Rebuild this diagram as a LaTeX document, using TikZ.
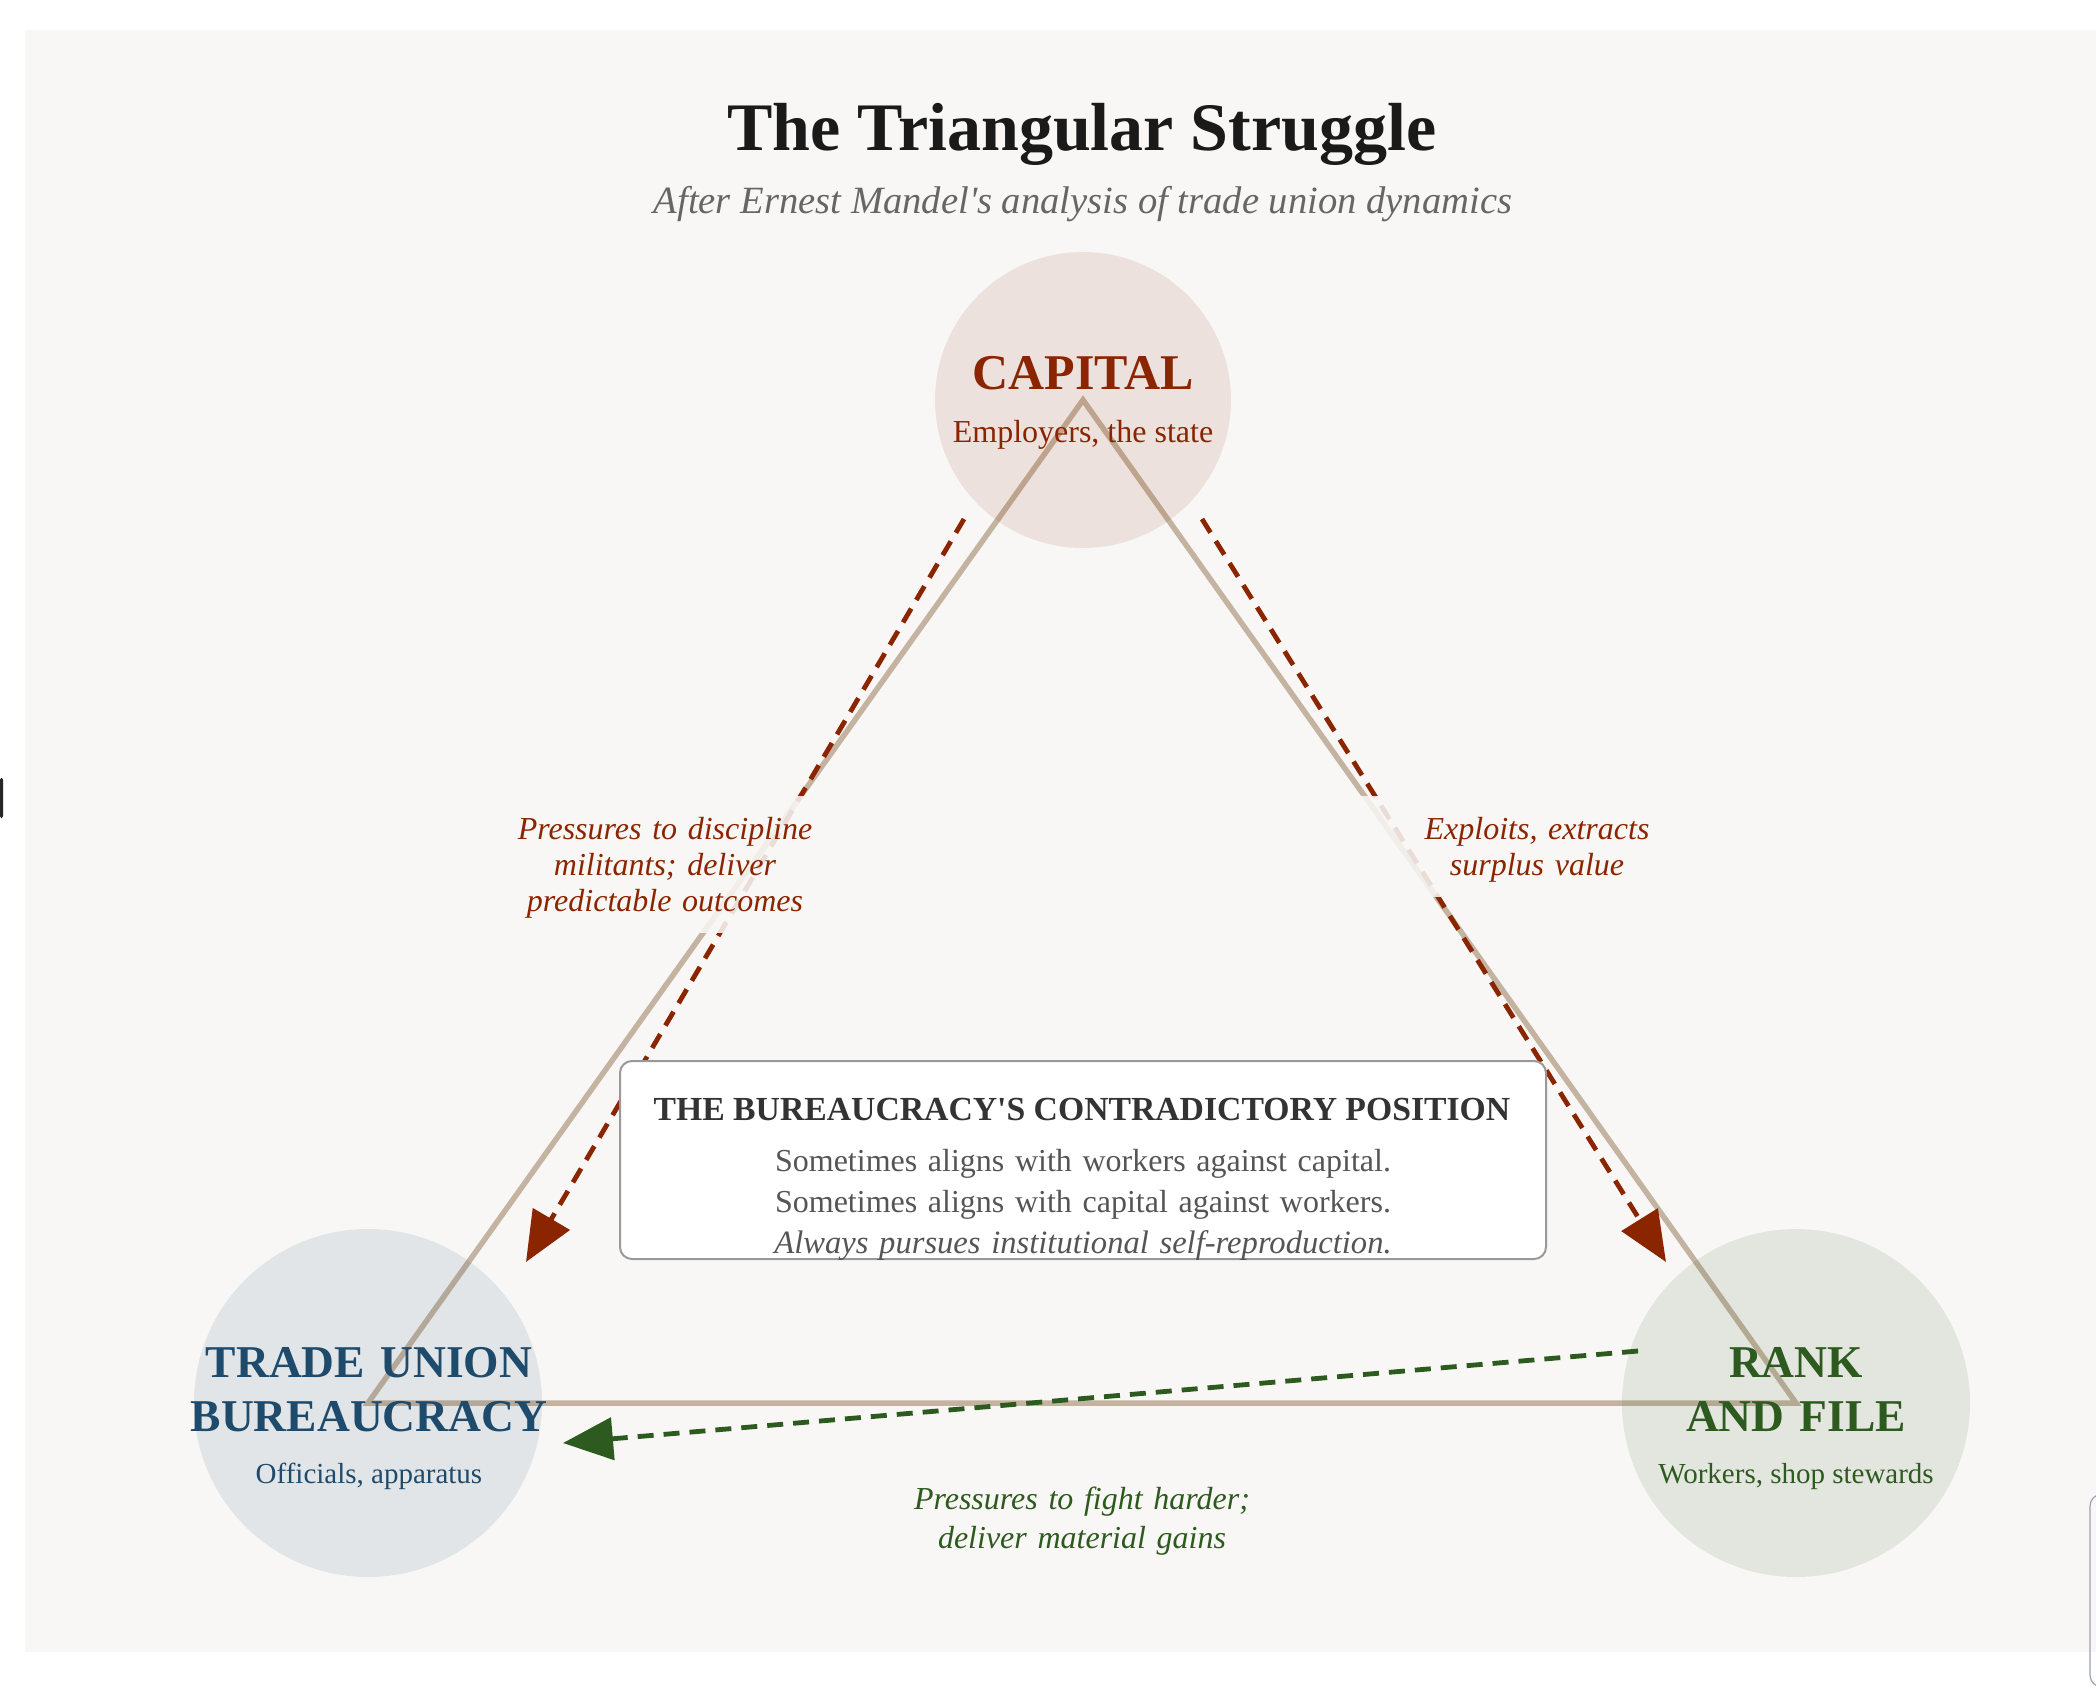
\documentclass[tikz,border=0pt]{standalone}
\usepackage{fontspec}
\setmainfont{Liberation Serif}[Ligatures=TeXOff]
\usetikzlibrary{arrows.meta}
\definecolor{panel}{HTML}{F8F7F5}
\definecolor{capred}{HTML}{8B2500}
\definecolor{burblue}{HTML}{1E4A6C}
\definecolor{rafgreen}{HTML}{2D5A1E}
\definecolor{tan}{HTML}{C4B3A0}
\definecolor{titlegray}{HTML}{1A1A1A}
\definecolor{subgray}{HTML}{666666}
\definecolor{headgray}{HTML}{333333}
\definecolor{bodygray}{HTML}{555555}
\definecolor{boxgray}{HTML}{999999}
\definecolor{edgeblue}{HTML}{9AA3B5}
\pgfdeclarelayer{bg}
\pgfdeclarelayer{lines}
\pgfsetlayers{bg,lines,main}
\tikzset{
  hub/.style={circle, inner sep=0pt, draw=none, fill opacity=0.1},
  tri/.style={draw=tan, line width=2.75pt, line join=miter},
  push/.style={line width=2.4pt, dash pattern=on 8pt off 5pt, -{Triangle[length=25pt,width=21pt]}},
  txt/.style={anchor=base, inner sep=0pt, align=center},
  hubname/.style={txt, text width=300pt, font=\bfseries\fontsize{22.75}{27}\selectfont},
  hubsub/.style={txt, font=\fontsize{14.5}{17}\selectfont},
  lbl/.style={txt, text width=200pt, font=\itshape\fontsize{16}{18}\selectfont},
  lblbg/.style={fill=panel, fill opacity=0.88}
}
\begin{document}
\begin{tikzpicture}[x=0.5pt,y=-0.5pt]
\useasboundingbox (0,0) rectangle (2096,1692);
\begin{pgfonlayer}{bg}
\fill[white] (0,0) rectangle (2096,1692);
\fill[panel] (25,30) rectangle (2096,1652);
\fill[black!85, rounded corners=1pt] (0,778) rectangle (3,818);
\draw[edgeblue, line width=0.6pt, rounded corners=6pt] (2130,1494) -- (2090,1494) -- (2090,1687) -- (2130,1687);
\end{pgfonlayer}

% title
\node[txt, font=\bfseries\fontsize{34}{40}\selectfont, text=titlegray] (title) at (1082,150) {The Triangular Struggle};
\node[txt, font=\itshape\fontsize{19.3}{22}\selectfont, text=subgray] (subtitle) at (1083,213) {After Ernest Mandel's analysis of trade union dynamics};

% hubs
\node[hub, fill=capred, minimum size=148pt] (cap) at (1083,400) {};
\node[hub, fill=burblue, minimum size=174pt] (bur) at (368,1403) {};
\node[hub, fill=rafgreen, minimum size=174pt] (raf) at (1796,1403) {};

\begin{pgfonlayer}{lines}
\draw[tri] (cap.center) -- (bur.center) -- (raf.center) -- cycle;
\end{pgfonlayer}

% arrows
\coordinate (a1s) at (964,519);
\coordinate (a1e) at (526,1262);
\coordinate (a2s) at (1202,519);
\coordinate (a2e) at (1666,1262);
\coordinate (a3s) at (1638,1351);
\coordinate (a3e) at (563,1443);
\draw[push, capred] (a1s) -- (a1e);
\draw[push, capred] (a2s) -- (a2e);
\draw[push, rafgreen] (a3s) -- (a3e);

% label backgrounds
\fill[lblbg] (485,796) rectangle (845,933);
\fill[lblbg] (1357,796) rectangle (1717,897);

% hub texts
\node[txt, font=\bfseries\fontsize{25}{28}\selectfont, text=capred] (capname) at (1083,389) {CAPITAL};
\node[txt, font=\fontsize{16}{18}\selectfont, text=capred] (capsub) at (1083,442) {Employers, the state};
\node[hubname, text=burblue] (burname) at (369,1377) {TRADE UNION\\BUREAUCRACY};
\node[hubsub, text=burblue] (bursub) at (369,1483) {Officials, apparatus};
\node[hubname, text=rafgreen] (rafname) at (1796,1377) {RANK\\AND FILE};
\node[hubsub, text=rafgreen] (rafsub) at (1796,1483) {Workers, shop stewards};

% edge labels
\node[lbl, text=capred] (l1) at (665,839) {Pressures to discipline\\militants; deliver\\predictable outcomes};
\node[lbl, text=capred] (l2) at (1537,839) {Exploits, extracts\\surplus value};
\node[lbl, text=rafgreen, font=\itshape\fontsize{16}{19.5}\selectfont] (l3) at (1082,1509) {Pressures to fight harder;\\deliver material gains};

% central box
\node[draw=boxgray, line width=1pt, fill=white, rounded corners=6pt, minimum width=463pt, minimum height=99pt, inner sep=0pt] (box) at (1083,1160) {};
\node[txt, font=\bfseries\fontsize{16.85}{20}\selectfont, text=headgray] (boxhead) at (1082,1120) {THE BUREAUCRACY'S CONTRADICTORY POSITION};
\node[txt, text width=400pt, font=\fontsize{16}{20.7}\selectfont, text=bodygray] (boxbody) at (1083,1171) {Sometimes aligns with workers against capital.\\Sometimes aligns with capital against workers.\\{\itshape\fontsize{16.3}{20.7}\selectfont Always pursues institutional self-reproduction.}};
\end{tikzpicture}
\end{document}
